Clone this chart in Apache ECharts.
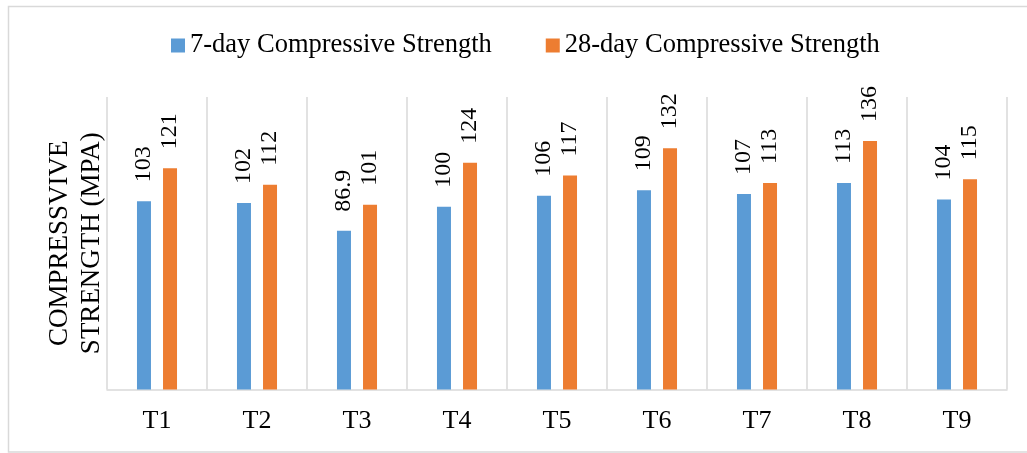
<!DOCTYPE html>
<html>
<head>
<meta charset="utf-8">
<style>
  html, body { margin: 0; padding: 0; background: #fff; }
  #chart { width: 1027px; height: 453px; }
</style>
<script src="https://cdn.jsdelivr.net/npm/echarts@6/dist/echarts.min.js"></script>
</head>
<body>
<div id="chart"></div>
<script>
// Mix designs
const categories = ['T1', 'T2', 'T3', 'T4', 'T5', 'T6', 'T7', 'T8', 'T9'];
// Compressive strength, MPa
const strength7 = [103, 102, 86.9, 100, 106, 109, 107, 113, 104];
const strength28 = [121, 112, 101, 124, 117, 132, 113, 136, 115];
const seriesNames = ['7-day Compressive Strength', '28-day Compressive Strength'];
const yAxisTitle = 'COMPRESSVIVE\nSTRENGTH (MPA)';

const FONT = '"Liberation Serif", "Times New Roman", serif';
const GRID_GRAY = '#d9d9d9';

const chart = echarts.init(document.getElementById('chart'), null, { renderer: 'canvas' });

const valueLabel = {
  show: true,
  position: 'top',
  distance: 19,
  rotate: 90,
  align: 'left',
  verticalAlign: 'middle',
  fontFamily: FONT,
  fontSize: 24,
  color: '#000'
};

chart.setOption({
  backgroundColor: '#fff',
  animation: false,
  graphic: [{
    type: 'rect',
    silent: true,
    shape: { x: 8.5, y: 6.5, width: 1040, height: 445.5 },
    style: { fill: 'none', stroke: GRID_GRAY, lineWidth: 1.5 }
  }],
  legend: {
    data: seriesNames,
    left: 166,
    top: 27,
    itemWidth: 14,
    itemHeight: 14,
    itemGap: 54,
    icon: 'rect',
    textStyle: { fontFamily: FONT, fontSize: 26.5, color: '#000' }
  },
  grid: { left: 107, right: 20, top: 97, bottom: 63.5, containLabel: false },
  xAxis: {
    type: 'category',
    data: categories,
    axisLine: { show: true, lineStyle: { color: GRID_GRAY, width: 1.5 } },
    axisTick: { show: false },
    splitLine: { show: true, lineStyle: { color: GRID_GRAY, width: 1.5 } },
    axisLabel: { fontFamily: FONT, fontSize: 26, color: '#000', margin: 19 }
  },
  yAxis: {
    type: 'value',
    min: 0,
    max: 160,
    interval: 20,
    axisLine: { show: false },
    axisTick: { show: false },
    axisLabel: { show: false },
    splitLine: { show: false },
    name: yAxisTitle,
    nameLocation: 'middle',
    nameRotate: 90,
    nameGap: -1,
    nameTextStyle: { fontFamily: FONT, fontSize: 27, lineHeight: 32, color: '#000', align: 'center' }
  },
  series: [
    {
      name: seriesNames[0],
      type: 'bar',
      data: strength7,
      barWidth: 14,
      barGap: '86%',
      itemStyle: { color: '#5b9bd5' },
      label: valueLabel
    },
    {
      name: seriesNames[1],
      type: 'bar',
      data: strength28,
      barWidth: 14,
      itemStyle: { color: '#ed7d31' },
      label: valueLabel
    }
  ]
});
</script>
</body>
</html>
